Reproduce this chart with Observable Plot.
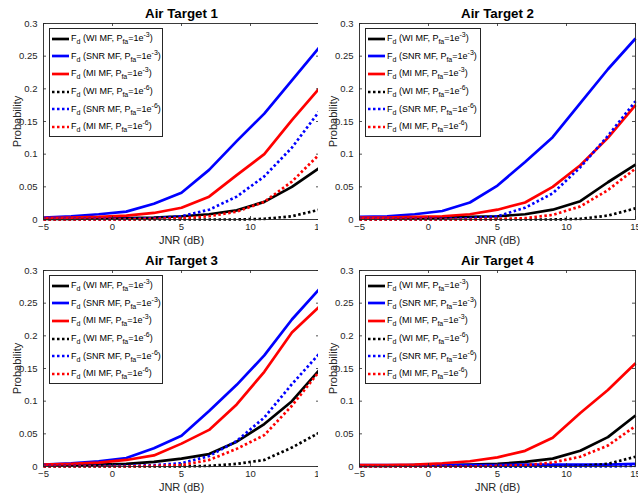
<!DOCTYPE html>
<html>
<head>
<meta charset="utf-8">
<script src="https://cdn.jsdelivr.net/npm/d3@7"></script>
<script src="https://cdn.jsdelivr.net/npm/@observablehq/plot@0.6"></script>
<style>
  html, body { margin: 0; padding: 0; background: #fff; }
  #wrap { position: relative; width: 638px; height: 495px; background: #fff; font-family: "Liberation Sans", Arial, sans-serif; overflow: hidden; }
  .panel { position: absolute; }
  .legend { position: absolute; background: #fff; border: 1px solid #262626; box-sizing: border-box; padding-top: 1px; }
  .row { display: flex; align-items: center; height: 17.6px; white-space: nowrap; font-size: 9px; color: #000; line-height: 1; }
  .row svg { margin-left: 2px; margin-right: 2px; flex: none; }
  .row .sub { font-size: 7px; position: relative; top: 3px; }
  .row .sup { font-size: 7px; position: relative; top: -4px; }
</style>
</head>
<body>
<div id="wrap"></div>
<script>
// ---------- data ----------
const jnr = [-5, -3, -1, 1, 3, 5, 7, 9, 11, 13, 15];
const xTicks = [-5, 0, 5, 10, 15];
const yTicks = [0, 0.05, 0.1, 0.15, 0.2, 0.25, 0.3];
const yTickLabels = ["0", "0.05", "0.1", "0.15", "0.2", "0.25", "0.3"];
const titles = ["Air Target 1", "Air Target 2", "Air Target 3", "Air Target 4"];
const filters = ["WI MF", "SNR MF", "MI MF", "WI MF", "SNR MF", "MI MF"];
const pfaExps = ["-3", "-3", "-3", "-6", "-6", "-6"];

// Air Target 1
const t1_wi3  = [0.001, 0.001, 0.002, 0.002, 0.003, 0.005, 0.008, 0.014, 0.027, 0.050, 0.079];
const t1_snr3 = [0.003, 0.005, 0.008, 0.012, 0.024, 0.041, 0.076, 0.120, 0.162, 0.213, 0.264];
const t1_mi3  = [0.002, 0.003, 0.004, 0.006, 0.010, 0.018, 0.035, 0.068, 0.100, 0.152, 0.201];
const t1_wi6  = [0, 0, 0, 0, 0, 0, 0, 0, 0.001, 0.005, 0.015];
const t1_snr6 = [0.001, 0.001, 0.001, 0.001, 0.002, 0.005, 0.015, 0.035, 0.066, 0.110, 0.166];
const t1_mi6  = [0, 0, 0, 0, 0.001, 0.002, 0.005, 0.012, 0.027, 0.058, 0.100];
// Air Target 2
const t2_wi3  = [0.002, 0.002, 0.002, 0.003, 0.004, 0.005, 0.008, 0.015, 0.028, 0.057, 0.084];
const t2_snr3 = [0.004, 0.005, 0.008, 0.013, 0.026, 0.052, 0.088, 0.126, 0.178, 0.230, 0.277];
const t2_mi3  = [0.003, 0.003, 0.004, 0.005, 0.008, 0.015, 0.026, 0.050, 0.083, 0.125, 0.175];
const t2_wi6  = [0, 0, 0, 0, 0, 0, 0, 0, 0.001, 0.006, 0.017];
const t2_snr6 = [0.001, 0.001, 0.001, 0.001, 0.002, 0.005, 0.018, 0.040, 0.080, 0.128, 0.181];
const t2_mi6  = [0, 0, 0, 0, 0, 0.001, 0.002, 0.007, 0.020, 0.045, 0.078];
// Air Target 3
const t3_wi3  = [0.002, 0.002, 0.003, 0.004, 0.007, 0.012, 0.019, 0.038, 0.065, 0.100, 0.148];
const t3_snr3 = [0.003, 0.005, 0.008, 0.013, 0.028, 0.047, 0.085, 0.125, 0.170, 0.225, 0.272];
const t3_mi3  = [0.003, 0.004, 0.006, 0.010, 0.017, 0.035, 0.056, 0.095, 0.145, 0.205, 0.245];
const t3_wi6  = [0, 0, 0, 0, 0, 0, 0.001, 0.004, 0.010, 0.029, 0.052];
const t3_snr6 = [0.001, 0.001, 0.001, 0.001, 0.002, 0.005, 0.016, 0.039, 0.075, 0.126, 0.173];
const t3_mi6  = [0, 0, 0, 0, 0.001, 0.002, 0.010, 0.027, 0.048, 0.093, 0.146];
// Air Target 4
const t4_wi3  = [0.001, 0.001, 0.002, 0.002, 0.003, 0.004, 0.007, 0.012, 0.024, 0.045, 0.078];
const t4_snr3 = [0.002, 0.002, 0.002, 0.002, 0.002, 0.002, 0.003, 0.003, 0.003, 0.003, 0.004];
const t4_mi3  = [0.002, 0.002, 0.003, 0.005, 0.008, 0.014, 0.024, 0.044, 0.082, 0.117, 0.158];
const t4_wi6  = [0, 0, 0, 0, 0, 0, 0, 0, 0.001, 0.004, 0.015];
const t4_snr6 = [0, 0, 0, 0, 0, 0, 0, 0, 0, 0, 0.001];
const t4_mi6  = [0, 0, 0, 0, 0, 0.001, 0.002, 0.006, 0.015, 0.032, 0.062];

const panelSeries = [
  [t1_wi3, t1_snr3, t1_mi3, t1_wi6, t1_snr6, t1_mi6],
  [t2_wi3, t2_snr3, t2_mi3, t2_wi6, t2_snr6, t2_mi6],
  [t3_wi3, t3_snr3, t3_mi3, t3_wi6, t3_snr6, t3_mi6],
  [t4_wi3, t4_snr3, t4_mi3, t4_wi6, t4_snr6, t4_mi6]
];

// ---------- styles / layout ----------
const seriesColor = ["#000000", "#0000ff", "#ff0000", "#000000", "#0000ff", "#ff0000"];
const seriesDash = [null, null, null, "2.5,2.5", "2.5,2.5", "2.5,2.5"];
const axisColor = "#262626";
const layout = [
  {left: 0,   top: 0,   width: 322, mL: 43, mR: 3},
  {left: 318, top: 0,   width: 320, mL: 41, mR: 3},
  {left: 0,   top: 247, width: 322, mL: 43, mR: 3},
  {left: 318, top: 247, width: 320, mL: 41, mR: 3}
];
const H = 248, mT = 23, mB = 29, tick = 3;

const wrap = document.getElementById("wrap");

panelSeries.forEach((series, p) => {
  const L = layout[p];
  const innerW = L.width - L.mL - L.mR;
  const innerH = H - mT - mB;
  const lineMarks = series.map((vals, s) => {
    const rows = jnr.map((x, i) => ({x, y: vals[i]}));
    return Plot.line(rows, {
      x: "x", y: "y",
      stroke: seriesColor[s],
      strokeWidth: 2.7,
      strokeDasharray: seriesDash[s] || undefined,
      strokeLinecap: "butt",
      strokeLinejoin: "round"
    });
  });
  const svg = Plot.plot({
    width: L.width,
    height: H,
    marginLeft: L.mL,
    marginRight: L.mR,
    marginTop: mT,
    marginBottom: mB,
    style: {background: "#fff", color: axisColor, fontFamily: "'Liberation Sans', Arial, sans-serif", overflow: "visible"},
    x: {domain: [-5, 15]},
    y: {domain: [0, 0.3]},
    marks: [
      ...lineMarks,
      Plot.frame({stroke: axisColor, strokeWidth: 0.9}),
      // inward ticks on all four sides
      Plot.tickX(xTicks, {x: d => d, stroke: axisColor, strokeWidth: 0.8, insetTop: innerH - tick}),
      Plot.tickX(xTicks, {x: d => d, stroke: axisColor, strokeWidth: 0.8, insetBottom: innerH - tick}),
      Plot.tickY(yTicks, {y: d => d, stroke: axisColor, strokeWidth: 0.8, insetRight: innerW - tick}),
      Plot.tickY(yTicks, {y: d => d, stroke: axisColor, strokeWidth: 0.8, insetLeft: innerW - tick}),
      Plot.axisX({ticks: xTicks, tickSize: 0, tickPadding: 4, label: null, fontSize: 9.5, fill: axisColor}),
      Plot.axisY({ticks: yTicks, tickSize: 0, tickPadding: 6, label: null, fontSize: 9.5, fill: axisColor,
                  tickFormat: d => yTickLabels[yTicks.indexOf(d)]}),
      Plot.text([titles[p]], {frameAnchor: "top", lineAnchor: "middle", textAnchor: "middle", dy: -10, fontWeight: "bold", fontSize: 13.3, fill: "#000"}),
      Plot.text(["JNR (dB)"], {frameAnchor: "bottom", lineAnchor: "middle", textAnchor: "middle", dy: 21, fontSize: 11, fill: axisColor}),
      Plot.text(["Probability"], {frameAnchor: "left", lineAnchor: "middle", textAnchor: "middle", dx: -26, rotate: -90, fontSize: 11, fill: axisColor})
    ]
  });
  const panel = document.createElement("div");
  panel.className = "panel";
  panel.style.left = L.left + "px";
  panel.style.top = L.top + "px";
  panel.appendChild(svg);

  // legend
  const lg = document.createElement("div");
  lg.className = "legend";
  lg.style.left = (L.mL + 6) + "px";
  lg.style.top = (mT + 5) + "px";
  lg.style.width = (p % 2 === 0 ? 114 : 116) + "px";
  lg.style.height = "109px";
  filters.forEach((f, s) => {
    const row = document.createElement("div");
    row.className = "row";
    const dash = seriesDash[s] ? ` stroke-dasharray="${seriesDash[s]}"` : "";
    row.innerHTML =
      `<svg width="17" height="4"><line x1="0" y1="2" x2="17" y2="2" stroke="${seriesColor[s]}" stroke-width="2.7"${dash}/></svg>` +
      `<span>F<span class="sub">d</span> (${f}, P<span class="sub">fa</span>=1e<span class="sup">${pfaExps[s]}</span>)</span>`;
    lg.appendChild(row);
  });
  panel.appendChild(lg);
  wrap.appendChild(panel);
});
</script>
</body>
</html>
